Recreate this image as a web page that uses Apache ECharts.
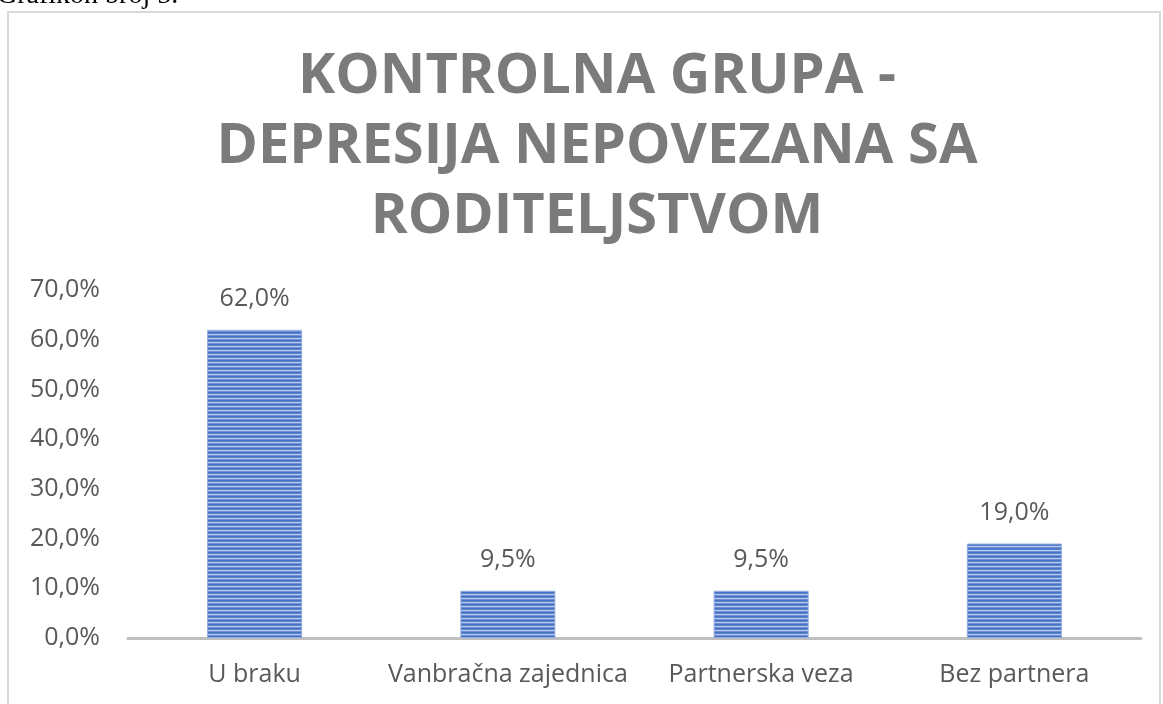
<!DOCTYPE html>
<html>
<head>
<meta charset="utf-8">
<script src="https://cdn.jsdelivr.net/npm/echarts@6/dist/echarts.min.js"></script>
<style>
  html, body {margin: 0; padding: 0; background: #fff;}
  #chart {width: 1163px; height: 704px;}
</style>
</head>
<body>
<div id="chart"></div>
<script>
const categories = ['U braku', 'Vanbračna zajednica', 'Partnerska veza', 'Bez partnera'];
const values = [62.0, 9.5, 9.5, 19.0];
const titleLines = ['KONTROLNA GRUPA -', 'DEPRESIJA NEPOVEZANA SA', 'RODITELJSTVOM'];
const captionText = 'Grafikon broj 5.';

// horizontal stripe fill like the excel pattern
function stripes() {
  const c = document.createElement('canvas');
  c.width = 4; c.height = 4;
  const ctx = c.getContext('2d');
  const rows = ['#4472c4', '#5a82cc', '#b9caec', '#6d8ed6'];
  rows.forEach((col, i) => { ctx.fillStyle = col; ctx.fillRect(0, i, 4, 1); });
  return c;
}

const pct = v => v.toFixed(1).replace('.', ',') + '%';
const grey = '#595959';
const font = '"Open Sans", sans-serif';

const chart = echarts.init(document.getElementById('chart'));
chart.setOption({
  animation: false,
  backgroundColor: '#fff',
  title: {
    text: titleLines.join('\n'),
    left: 592, top: 37,
    textAlign: 'center',
    textStyle: {fontFamily: font, fontWeight: 'bold', fontSize: 56, lineHeight: 70, color: '#7b7b7b'}
  },
  graphic: [
    {type: 'rect', shape: {x: 8, y: 12, width: 1152, height: 720},
      style: {fill: 'none', stroke: '#d9d9d9', lineWidth: 2}, silent: true},
    {type: 'text', x: -3, y: 10,
      style: {text: captionText, font: '28px "Liberation Serif", serif', fill: '#000', verticalAlign: 'bottom'}}
  ],
  grid: {left: 128, right: 22, top: 290, bottom: 66},
  xAxis: {
    type: 'category',
    data: categories,
    axisLine: {lineStyle: {color: '#bfbfbf', width: 3}},
    axisTick: {show: false},
    axisLabel: {color: grey, fontFamily: font, fontSize: 25, margin: 24, interval: 0}
  },
  yAxis: {
    type: 'value',
    min: 0, max: 70, interval: 10,
    splitLine: {show: false},
    axisLine: {show: false},
    axisLabel: {color: grey, fontFamily: font, fontSize: 25, margin: 28, formatter: pct}
  },
  series: [{
    type: 'bar',
    data: values,
    barWidth: '37.5%',
    itemStyle: {color: {image: stripes(), repeat: 'repeat'}, borderColor: '#8eaadc', borderWidth: 1},
    label: {show: true, position: 'top', distance: 18, color: grey, fontFamily: font, fontSize: 25,
      formatter: p => pct(p.value)}
  }]
});
</script>
</body>
</html>
